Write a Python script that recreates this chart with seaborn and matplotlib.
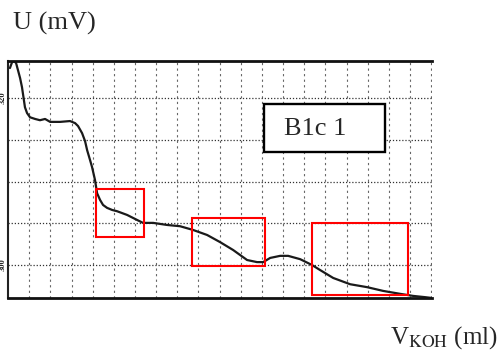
import matplotlib
matplotlib.use("Agg")
import matplotlib.pyplot as plt
from matplotlib.patches import Rectangle
import seaborn as sns
import pandas as pd

# titration curve (x in grid divisions of V_KOH, y in grid divisions of U)
v_koh = [0.09, 0.19, 0.28, 0.38, 0.47, 0.57, 0.66, 0.80, 0.90, 1.04, 1.28, 1.51,
         1.75, 1.99, 2.46, 2.93, 3.17, 3.31, 3.50, 3.64, 3.74, 3.88, 3.97, 4.11,
         4.21, 4.35, 4.49, 4.68, 4.92, 5.15, 5.63, 6.10, 6.38, 6.86, 7.52, 8.13,
         8.75, 9.41, 10.02, 10.64, 11.30, 11.77, 12.06, 12.39, 12.86, 13.24, 13.81,
         14.37, 14.75, 15.37, 16.17, 16.97, 17.73, 18.53, 19.15, 19.72, 20.05]
u_mv = [5.72, 5.86, 5.89, 5.84, 5.67, 5.48, 5.26, 4.78, 4.64, 4.54, 4.50, 4.47,
        4.50, 4.43, 4.43, 4.45, 4.40, 4.33, 4.16, 3.97, 3.75, 3.51, 3.35, 3.04,
        2.72, 2.56, 2.44, 2.37, 2.32, 2.29, 2.20, 2.08, 2.01, 2.01, 1.96, 1.93,
        1.84, 1.72, 1.55, 1.36, 1.12, 1.07, 1.07, 1.17, 1.22, 1.22, 1.14,
        1.00, 0.88, 0.69, 0.54, 0.47, 0.38, 0.31, 0.26, 0.23, 0.21]

# highlighted regions (x0, x1, y0, y1)
region_x0 = [4.16, 8.70, 14.37]
region_x1 = [6.43, 12.15, 18.91]
region_y0 = [1.67, 0.98, 0.28]
region_y1 = [2.82, 2.13, 2.01]

sample_label = "B1c 1"
y_title = "U (mV)"
x_title = r"V$_{\rm KOH}$ (ml)"
axis_marks = ["320", "300"]
axis_mark_pos = [5.0, 1.0]

sns.set_style("white")
plt.rcParams['font.family'] = ['Liberation Serif', 'DejaVu Serif']
plt.rcParams['mathtext.fontset'] = 'stix'

fig = plt.figure(figsize=(5.02, 3.54), dpi=100)
ax = fig.add_axes([0.016, 0.157, 0.845, 0.672])

df = pd.DataFrame({"v": v_koh, "u": u_mv})
sns.lineplot(data=df, x="v", y="u", ax=ax, color="#1a1a1a", linewidth=1.6)

ax.set_xlim(0, 20.05)
ax.set_ylim(0.2, 5.9)
ax.set_xlabel("")
ax.set_ylabel("")
ax.set_xticks([])
ax.set_yticks([])

for xv in range(1, 21):
    ax.axvline(xv, color="#666666", lw=0.8, ls=(0, (2, 3)), zorder=0)
for yv in range(1, 6):
    ax.axhline(yv, color="#333333", lw=0.9, ls=(0, (1, 1.5)), zorder=0)

for side in ["top", "bottom"]:
    ax.spines[side].set_linewidth(2.0)
    ax.spines[side].set_color("#111111")
ax.spines["left"].set_linewidth(1.5)
ax.spines["left"].set_color("#222222")
ax.spines["right"].set_visible(False)

for x0, x1, y0, y1 in zip(region_x0, region_x1, region_y0, region_y1):
    ax.add_patch(Rectangle((x0, y0), x1 - x0, y1 - y0, fill=False,
                           edgecolor="#ff0000", lw=1.5, zorder=5))

# label box
ax.add_patch(Rectangle((12.10, 3.71), 17.83 - 12.10, 4.86 - 3.71,
                       facecolor="white", edgecolor="black", lw=1.7, zorder=6))
ax.text(14.52, 4.25, sample_label, ha="center", va="center", fontsize=19,
        zorder=7)

for lab, pos in zip(axis_marks, axis_mark_pos):
    ax.text(-0.25, pos, lab, rotation=90, ha="center", va="center",
            fontsize=6, fontweight="bold", clip_on=False)

fig.text(13 / 502, 1 - 23 / 354, y_title, ha="left", va="center", fontsize=19)
fig.text(498 / 502, 1 - 338 / 354, x_title, ha="right", va="center", fontsize=18)

fig.savefig("out.png", dpi=100)
